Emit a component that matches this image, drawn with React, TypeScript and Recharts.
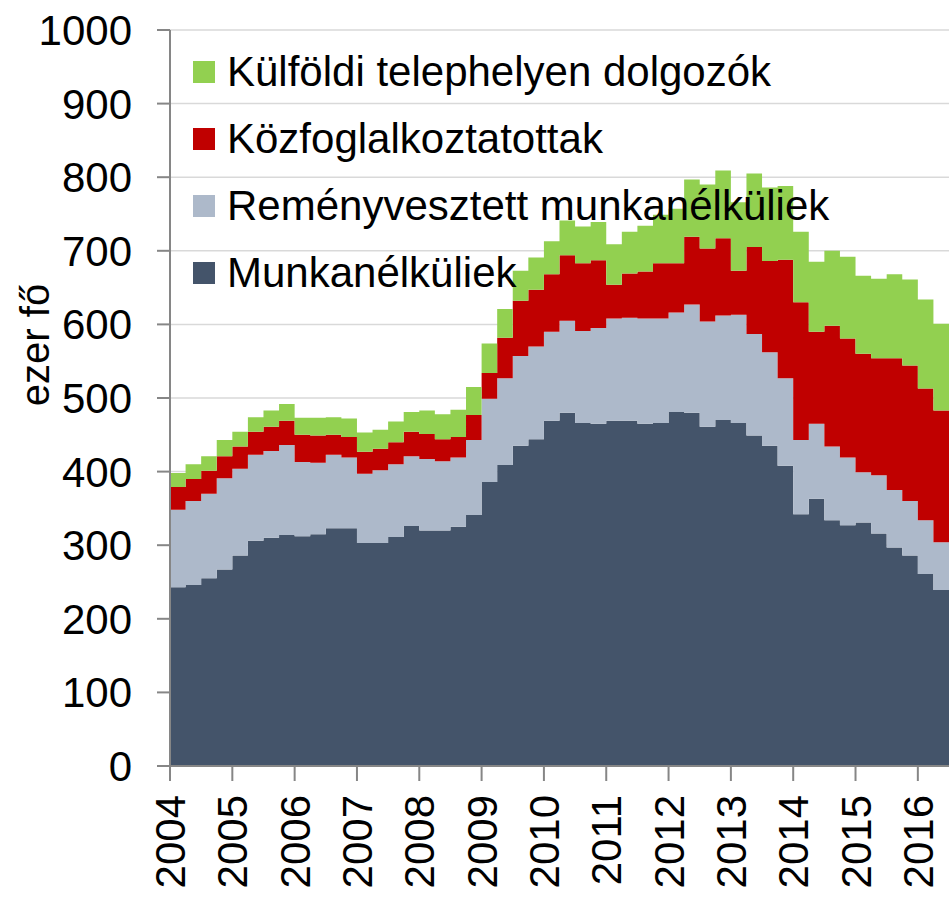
import { Area, AreaChart, CartesianGrid, Label, XAxis, YAxis } from 'recharts';

// quarterly data, 2004 Q1 .. 2016 Q2, thousand persons
const firstYear = 2004;
const years = [2004, 2005, 2006, 2007, 2008, 2009, 2010, 2011, 2012, 2013, 2014, 2015, 2016];
const yTicks = [0, 100, 200, 300, 400, 500, 600, 700, 800, 900, 1000];

const munkanelkuliek = [
  243, 246, 255, 267, 286, 306, 310, 314, 312, 315,
  323, 323, 303, 303, 311, 326, 320, 320, 325, 341,
  386, 409, 435, 444, 469, 480, 466, 465, 469, 469,
  465, 466, 481, 480, 461, 470, 466, 449, 435, 408,
  342, 363, 334, 327, 331, 316, 297, 286, 261, 239,
];
const remenyvesztett = [
  105, 114, 115, 124, 118, 117, 118, 122, 101, 97,
  100, 96, 94, 99, 99, 95, 97, 94, 94, 102,
  113, 118, 122, 126, 121, 125, 125, 130, 139, 140,
  143, 142, 135, 147, 143, 142, 147, 138, 127, 119,
  101, 102, 100, 92, 68, 79, 78, 74, 73, 65,
];
const kozfoglalkoztatottak = [
  31, 30, 31, 30, 30, 31, 33, 33, 37, 37,
  27, 28, 30, 29, 30, 33, 34, 30, 28, 34,
  35, 55, 75, 77, 78, 89, 92, 92, 46, 60,
  64, 75, 67, 92, 99, 105, 60, 118, 124, 161,
  187, 125, 164, 162, 161, 159, 179, 184, 179, 179,
];
const kulfoldi = [
  19, 20, 20, 22, 20, 20, 22, 23, 23, 24,
  24, 25, 26, 26, 28, 27, 32, 34, 37, 38,
  40, 39, 41, 44, 45, 47, 50, 52, 55, 57,
  62, 66, 74, 78, 87, 92, 93, 100, 100, 100,
  96, 95, 102, 111, 106, 108, 114, 117, 121, 118,
];

const series = [
  { key: 'munk', name: 'Munkanélküliek', color: '#44546a' },
  { key: 'remeny', name: 'Reményvesztett munkanélküliek', color: '#adb9ca' },
  { key: 'kozf', name: 'Közfoglalkoztatottak', color: '#c00000' },
  { key: 'kulf', name: 'Külföldi telephelyen dolgozók', color: '#92d050' },
];

const data = munkanelkuliek.map((v, i) => ({
  t: firstYear + i / 4,
  munk: v,
  remeny: remenyvesztett[i],
  kozf: kozfoglalkoztatottak[i],
  kulf: kulfoldi[i],
}));
// closing point so the last quarter's step gets its width
data.push({ ...data[data.length - 1], t: firstYear + munkanelkuliek.length / 4 });

const font = '"Liberation Sans", Arial, sans-serif';
const axisGrey = '#868686';

function YearTick({ x, y, payload }: any) {
  return (
    <g transform={`translate(${x},${y})`}>
      <text transform="rotate(-90)" x={-12} y={15} textAnchor="end" fontSize={42} fill="#000" fontFamily={font}>
        {payload.value}
      </text>
    </g>
  );
}

function AxisTitle() {
  return (
    <text x={49} y={345} transform="rotate(-90, 49, 345)" textAnchor="middle" fontSize={40} fill="#000" fontFamily={font}>
      ezer fő
    </text>
  );
}

export default function App() {
  const legendItems = [...series].reverse();
  return (
    <div style={{ position: 'relative', width: 950, height: 897, fontFamily: font }}>
      <style>{'body{margin:0;overflow:hidden}'}</style>
      <AreaChart width={950} height={897} data={data} margin={{ top: 30, right: 1, bottom: 0, left: 0 }}>
        <CartesianGrid vertical={false} stroke="#d9d9d9" strokeWidth={1.5} />
        <XAxis
          type="number"
          dataKey="t"
          domain={[2004, 2016.5]}
          ticks={years}
          interval={0}
          height={131}
          tickSize={15}
          tick={<YearTick />}
          axisLine={{ stroke: axisGrey, strokeWidth: 2 }}
          tickLine={{ stroke: axisGrey, strokeWidth: 2 }}
        />
        <YAxis
          domain={[0, 1000]}
          ticks={yTicks}
          interval={0}
          width={170}
          tickSize={13}
          tickMargin={25}
          tick={{ fontSize: 42, fill: '#000', fontFamily: font }}
          axisLine={{ stroke: axisGrey, strokeWidth: 2 }}
          tickLine={{ stroke: axisGrey, strokeWidth: 2 }}
        >
          <Label content={<AxisTitle />} />
        </YAxis>
        {series.map((s) => (
          <Area
            key={s.key}
            type="stepAfter"
            dataKey={s.key}
            name={s.name}
            stackId="a"
            stroke="none"
            fill={s.color}
            fillOpacity={1}
            isAnimationActive={false}
          />
        ))}
      </AreaChart>
      <div style={{ position: 'absolute', left: 193, top: 38, pointerEvents: 'none' }}>
        {legendItems.map((s) => (
          <div key={s.key} style={{ display: 'flex', alignItems: 'center', height: 67 }}>
            <div style={{ width: 22, height: 22, background: s.color, marginRight: 12 }} />
            <span style={{ fontSize: 42, color: '#000', whiteSpace: 'nowrap' }}>{s.name}</span>
          </div>
        ))}
      </div>
    </div>
  );
}
